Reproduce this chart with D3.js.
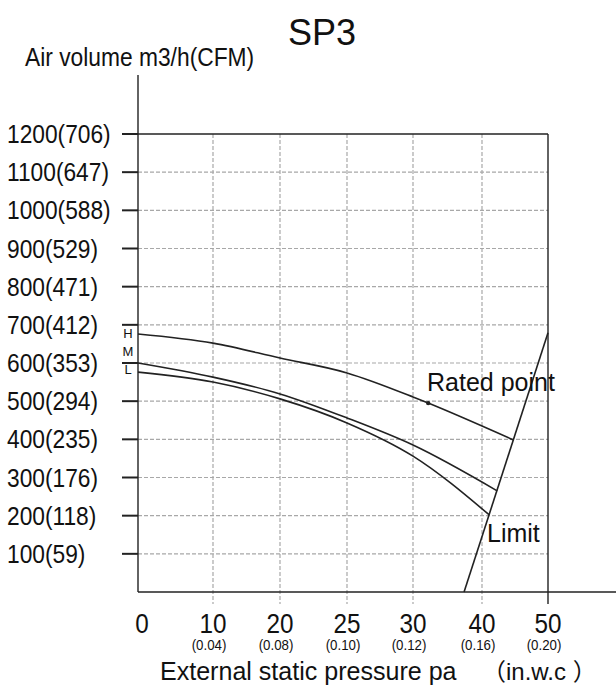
<!DOCTYPE html>
<html>
<head>
<meta charset="utf-8">
<script src="https://cdn.jsdelivr.net/npm/d3@7"></script>
<style>
html,body{margin:0;padding:0;background:#fff;}
svg text{font-family:"Liberation Sans",Arial,sans-serif;fill:#111;}
</style>
</head>
<body>
<svg id="chart" width="616" height="688"></svg>
<script>
// ---- data ----
const title = "SP3";
const yTitle = "Air volume m3/h(CFM)";
const xTitle = "External static pressure pa";
const xUnit = "（in.w.c ）";
const pressureTicks = [0, 10, 20, 25, 30, 40, 50];
const pressureInwc = ["", "(0.04)", "(0.08)", "(0.10)", "(0.12)", "(0.16)", "(0.20)"];
const airTicks = [100, 200, 300, 400, 500, 600, 700, 800, 900, 1000, 1100, 1200];
const airTickLabels = ["100(59)", "200(118)", "300(176)", "400(235)", "500(294)", "600(353)", "700(412)", "800(471)", "900(529)", "1000(588)", "1100(647)", "1200(706)"];
const speedNames = ["H", "M", "L"];
const curveH = [[0, 676], [10, 652], [20, 613], [25, 574], [30, 511], [32.2, 495], [44.8, 398]];
const curveM = [[0, 600], [10, 563], [20, 519], [25, 456], [30, 385], [42.3, 265]];
const curveL = [[0, 576], [10, 550], [20, 506], [25, 443], [30, 356], [41.1, 202]];
const limitLine = [[37.4, 0], [50, 679]];
const ratedPoint = [32.2, 495];
const ratedLabel = "Rated point";
const limitLabel = "Limit";

// ---- layout ----
const svg = d3.select("#chart");
const x = d3.scaleLinear().domain(pressureTicks).range([138, 213, 280, 347, 413, 482, 548]);
const y = d3.scaleLinear().domain([0, 1200]).range([592, 134]);
const gridColor = "#a8a8a8";
const ink = "#222";

function label(g, tx, ty, str, size, sx, anchor) {
  return g.append("text")
    .attr("transform", `translate(${tx},${ty}) scale(${sx},1)`)
    .attr("text-anchor", anchor || "start")
    .attr("font-size", size).text(str);
}

// grid: horizontal dashed
svg.append("g").selectAll("line").data(airTicks.slice(0, -1)).join("line")
  .attr("x1", x(0)).attr("x2", x(50))
  .attr("y1", d => y(d)).attr("y2", d => y(d))
  .attr("stroke", gridColor).attr("stroke-width", 1.2).attr("stroke-dasharray", "4,2");
// grid: vertical dashed
svg.append("g").selectAll("line").data(pressureTicks.slice(1, -1)).join("line")
  .attr("x1", d => x(d)).attr("x2", d => x(d))
  .attr("y1", y(1200)).attr("y2", 604)
  .attr("stroke", gridColor).attr("stroke-width", 1.2).attr("stroke-dasharray", "4,2");

// frame
svg.append("line").attr("x1", 122).attr("x2", x(50)).attr("y1", y(1200)).attr("y2", y(1200))
  .attr("stroke", ink).attr("stroke-width", 1.4);
svg.append("line").attr("x1", x(50)).attr("x2", x(50)).attr("y1", y(1200)).attr("y2", 604)
  .attr("stroke", ink).attr("stroke-width", 1.4);
// y axis
svg.append("line").attr("x1", x(0)).attr("x2", x(0)).attr("y1", 75).attr("y2", y(0))
  .attr("stroke", ink).attr("stroke-width", 1.4);
// x axis
svg.append("line").attr("x1", x(0)).attr("x2", 616).attr("y1", y(0)).attr("y2", y(0))
  .attr("stroke", ink).attr("stroke-width", 1.4);

// y ticks + labels
svg.append("g").selectAll("line").data(airTicks).join("line")
  .attr("x1", 122).attr("x2", x(0))
  .attr("y1", d => y(d)).attr("y2", d => y(d))
  .attr("stroke", ink).attr("stroke-width", 2);
const gy = svg.append("g");
airTicks.forEach((d, i) => label(gy, 7, y(d) + 9, airTickLabels[i], 25, 0.91));

// x labels
const gx = svg.append("g");
pressureTicks.forEach((d, i) => {
  label(gx, x(d) + (d === 0 ? 4 : 0), 633, String(d), 27, 0.9, "middle");
  label(gx, x(d) - 4, 650, pressureInwc[i], 14, 0.95, "middle");
});

// titles
label(svg, 322, 45, title, 36, 1, "middle");
label(svg, 25, 66, yTitle, 26, 0.877);
label(svg, 160, 680, xTitle, 26, 0.964);
svg.append("text").attr("x", 482).attr("y", 680).attr("font-size", 24)
  .style("font-family", "'Liberation Sans',Arial,'Noto Sans CJK SC',sans-serif").text(xUnit);

// curves
const line = d3.line().x(d => x(d[0])).y(d => y(d[1])).curve(d3.curveMonotoneX);
svg.append("g").selectAll("path").data([curveH, curveM, curveL]).join("path")
  .attr("d", line).attr("fill", "none").attr("stroke", ink).attr("stroke-width", 1.6);
svg.append("path").attr("d", d3.line().x(d => x(d[0])).y(d => y(d[1]))(limitLine))
  .attr("fill", "none").attr("stroke", ink).attr("stroke-width", 1.6);

// speed labels
svg.append("g").selectAll("text").data(speedNames).join("text")
  .attr("x", 128)
  .attr("y", (d, i) => y([676, 630, 582][i]) + 4)
  .attr("text-anchor", "middle").attr("font-size", 13).text(d => d);

// rated point
svg.append("circle").attr("cx", x(ratedPoint[0])).attr("cy", y(ratedPoint[1])).attr("r", 2.2).attr("fill", ink);
label(svg, 427, 391, ratedLabel, 25, 1);
label(svg, 487, 542, limitLabel, 25, 1);
</script>
</body>
</html>
